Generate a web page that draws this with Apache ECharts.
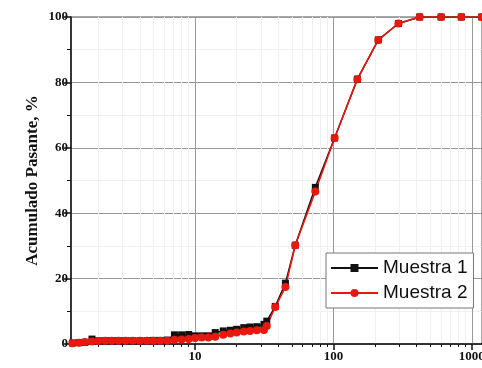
<!DOCTYPE html>
<html><head><meta charset="utf-8">
<script src="https://cdn.jsdelivr.net/npm/echarts@6/dist/echarts.min.js"></script>
<style>html,body{margin:0;padding:0;background:#fff}#c{width:482px;height:368px}</style>
</head><body><div id="c"></div>
<script>
// Particle size (x, log scale)
const sizes = [1.3, 1.45, 1.6, 1.8, 2.0, 2.25, 2.5, 2.8, 3.15, 3.55, 4.0, 4.5, 5.0, 5.6, 6.3, 7.1, 8.0, 9.0, 10, 11.2, 12.5, 14, 16, 18, 20, 22.5, 25, 28, 31.5, 33, 38, 45, 53, 74, 102, 149, 211, 295, 420, 600, 840, 1180];
const muestra1 = [0.3, 0.4, 0.5, 1.5, 1.0, 1.0, 1.0, 1.0, 1.0, 1.0, 1.0, 1.0, 1.1, 1.1, 1.2, 2.8, 2.8, 2.9, 2.5, 2.5, 2.5, 3.5, 4.0, 4.2, 4.5, 5.0, 5.2, 5.3, 6.0, 7.0, 11.5, 18.6, 30.2, 47.9, 63, 81, 93, 98, 100, 100, 100, 100];
const muestra2 = [0.2, 0.4, 0.6, 0.8, 0.9, 1.0, 1.0, 1.0, 1.0, 1.0, 1.0, 1.0, 1.0, 1.0, 1.0, 1.3, 1.4, 1.5, 1.8, 2.0, 2.0, 2.2, 2.8, 3.2, 3.5, 3.8, 4.0, 4.2, 4.3, 5.5, 11.3, 17.4, 30.2, 46.6, 63, 81, 93, 98, 100, 100, 100, 100];
const seriesNames = ['Muestra 1', 'Muestra 2'];
const xMajor = [10, 100, 1000];
const xMinor = [2,3,4,5,6,7,8,9,20,30,40,50,60,70,80,90,200,300,400,500,600,700,800,900];
const yTicks = [0, 20, 40, 60, 80, 100];

const serif = '"Liberation Serif", "DejaVu Serif", serif';
const chart = echarts.init(document.getElementById('c'));
const pairs = arr => sizes.map((s, i) => [s, arr[i]]);
chart.setOption({
  animation: false,
  grid: {left: 71, right: 0, top: 17, bottom: 24, show: true, borderColor: '#555', borderWidth: 1, outerBoundsMode: 'none', containLabel: false},
  xAxis: [{
    type: 'log', logBase: 10, min: 1.27, max: 1185,
    axisLine: {lineStyle: {color: '#111', width: 1.5}},
    axisTick: {customValues: xMajor, length: 6, inside: false, lineStyle: {color: '#111', width: 1.5}},
    axisLabel: {customValues: xMajor, formatter: v => String(Math.round(v)), color: '#111', fontFamily: serif, fontWeight: 'bold', fontSize: 13, margin: 6},
    splitLine: {show: true, lineStyle: {color: '#999', width: 1}}
  }, {
    type: 'log', logBase: 10, min: 1.27, max: 1185, position: 'bottom',
    axisLine: {show: false},
    axisTick: {customValues: xMinor, length: 3, lineStyle: {color: '#111', width: 1}},
    axisLabel: {show: false},
    splitLine: {show: true, lineStyle: {color: '#f0f0f0', width: 1}}
  }],
  yAxis: {
    type: 'value', min: 0, max: 100, interval: 20,
    name: 'Acumulado Pasante, %', nameLocation: 'middle', nameGap: 30, nameMoveOverlap: false,
    nameTextStyle: {color: '#111', fontFamily: serif, fontWeight: 'bold', fontSize: 17},
    axisLine: {show: true, lineStyle: {color: '#111', width: 1.5}},
    axisTick: {show: true, length: 7, lineStyle: {color: '#111', width: 1.5}},
    minorTick: {show: true, splitNumber: 2, length: 4, lineStyle: {color: '#111'}},
    axisLabel: {color: '#111', fontFamily: serif, fontWeight: 'bold', fontSize: 13, margin: 3},
    splitLine: {show: true, lineStyle: {color: '#999', width: 1}},
    minorSplitLine: {show: true, lineStyle: {color: '#f0f0f0'}}
  },
  legend: {
    data: seriesNames, orient: 'vertical', left: 326, top: 253,
    padding: [4, 6, 4, 4], itemGap: 3, itemWidth: 47, itemHeight: 10,
    borderColor: '#777', borderWidth: 1, backgroundColor: '#fff',
    textStyle: {color: '#111', fontFamily: '"Liberation Sans", Arial, sans-serif', fontSize: 19, lineHeight: 22}
  },
  series: [{
    name: seriesNames[0], type: 'line', data: pairs(muestra1), xAxisIndex: 0,
    symbol: 'rect', symbolSize: 7, color: '#111',
    lineStyle: {color: '#111', width: 1.5}, itemStyle: {color: '#111'}
  }, {
    name: seriesNames[1], type: 'line', data: pairs(muestra2), xAxisIndex: 0,
    symbol: 'circle', symbolSize: 8, color: '#e8180f',
    lineStyle: {color: '#e8180f', width: 1.5}, itemStyle: {color: '#e8180f'}
  }]
});
</script></body></html>
